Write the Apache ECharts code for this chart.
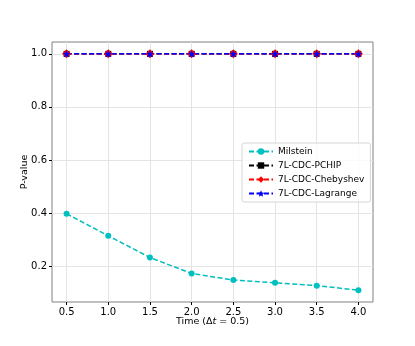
<!DOCTYPE html>
<html>
<head>
<meta charset="utf-8">
<script src="https://cdn.jsdelivr.net/npm/echarts@6/dist/echarts.min.js"></script>
<style>
  html, body { margin: 0; padding: 0; background: #fff; }
  #chart { width: 415px; height: 346px; }
</style>
</head>
<body>
<div id="chart"></div>
<script>
// time steps
var times = [0.5, 1.0, 1.5, 2.0, 2.5, 3.0, 3.5, 4.0];
var milstein = [0.397, 0.314, 0.232, 0.172, 0.147, 0.137, 0.126, 0.109];
var pchip = [1.0, 1.0, 1.0, 1.0, 1.0, 1.0, 1.0, 1.0];
var chebyshev = [1.0, 1.0, 1.0, 1.0, 1.0, 1.0, 1.0, 1.0];
var lagrange = [1.0, 1.0, 1.0, 1.0, 1.0, 1.0, 1.0, 1.0];
var yTicks = [0.2, 0.4, 0.6, 0.8, 1.0];

function pairs(vals) {
    return times.map(function (t, i) { return [t, vals[i]]; });
}

var font = 'DejaVu Sans';
var myChart = echarts.init(document.getElementById('chart'));

function mkSeries(name, vals, color, symbol, size) {
    return {
        name: name,
        type: 'line',
        data: pairs(vals),
        symbol: symbol,
        symbolSize: size,
        itemStyle: { color: color },
        lineStyle: { color: color, width: 1.5, type: [5, 2.5] },
        emphasis: { disabled: true },
        animation: false
    };
}

var options = {
    backgroundColor: '#fff',
    grid: {
        left: 52, right: 42, top: 42, bottom: 44,
        show: true, borderColor: '#808080', borderWidth: 1
    },
    legend: {
        orient: 'vertical',
        left: 242, top: 143,
        padding: [4, 6, 4, 6],
        itemGap: 5,
        itemWidth: 24, itemHeight: 8,
        borderColor: '#d6d6d6', borderWidth: 1, borderRadius: 2,
        backgroundColor: 'rgba(255,255,255,0.8)',
        textStyle: { fontFamily: font, fontSize: 9, color: '#000' },
        data: ['Milstein', '7L-CDC-PCHIP', '7L-CDC-Chebyshev', '7L-CDC-Lagrange']
    },
    xAxis: {
        type: 'value',
        min: 0.325, max: 4.175,
        name: '{a|Time (Δ}{i|t}{a| = 0.5)}',
        nameLocation: 'middle', nameGap: 15,
        nameMoveOverlap: false,
        nameTextStyle: {
            rich: {
                a: { fontFamily: font, fontSize: 9.5, color: '#000' },
                i: { fontFamily: font, fontSize: 9.5, color: '#000', fontStyle: 'italic' }
            }
        },
        axisLine: { show: false },
        axisTick: { show: true, length: 3, customValues: times, lineStyle: { color: '#000' } },
        axisLabel: { customValues: times, fontFamily: font, fontSize: 10, color: '#000', margin: 5,
            formatter: function (v) { return v.toFixed(1); } },
        splitLine: { show: true, lineStyle: { color: '#e4e4e4', width: 1 } }
    },
    yAxis: {
        type: 'value',
        min: 0.0644, max: 1.0446,
        name: 'P-value',
        nameLocation: 'middle', nameGap: 22,
        nameMoveOverlap: false,
        nameTextStyle: { fontFamily: font, fontSize: 9.5, color: '#000' },
        axisLine: { show: false },
        axisTick: { show: true, length: 3, customValues: yTicks, lineStyle: { color: '#000' } },
        axisLabel: { customValues: yTicks, fontFamily: font, fontSize: 10, color: '#000', margin: 5,
            formatter: function (v) { return v.toFixed(1); } },
        splitLine: { show: true, lineStyle: { color: '#e4e4e4', width: 1 } }
    },
    series: [
        mkSeries('Milstein', milstein, '#00bfbf', 'circle', 6),
        mkSeries('7L-CDC-PCHIP', pchip, '#000000', 'rect', 6),
        mkSeries('7L-CDC-Chebyshev', chebyshev, '#ff0000', 'diamond', 9),
        mkSeries('7L-CDC-Lagrange', lagrange, '#0000ff', 'path://M0,-10L2.9,-4L9.5,-3.1L4.8,1.6L5.9,8.1L0,5L-5.9,8.1L-4.8,1.6L-9.5,-3.1L-2.9,-4Z', 7)
    ]
};
myChart.setOption(options);
</script>
</body>
</html>
